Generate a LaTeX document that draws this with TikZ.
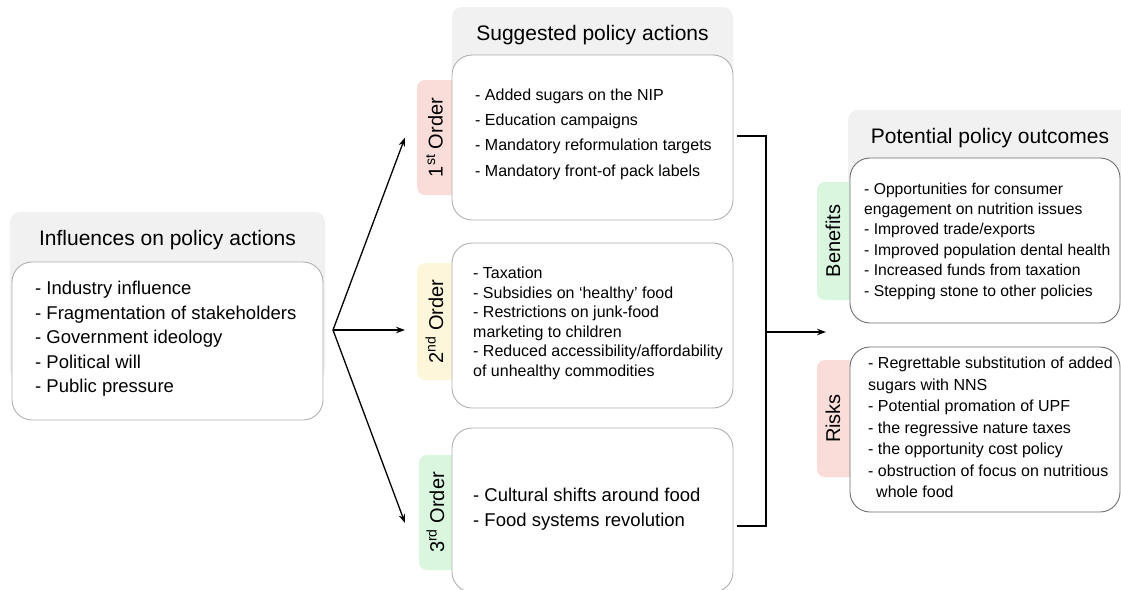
\documentclass[tikz,border=0pt]{standalone}
\usepackage{fontspec}
\setmainfont{Liberation Sans}
\usetikzlibrary{arrows.meta}
\definecolor{panelgray}{RGB}{241,241,241}
\definecolor{tabpink}{RGB}{250,220,217}
\definecolor{tabyellow}{RGB}{254,246,218}
\definecolor{tabgreen}{RGB}{218,246,222}
\definecolor{boxline}{RGB}{175,175,175}
\definecolor{boxlinedark}{RGB}{110,110,110}

\begin{document}
\begin{tikzpicture}[x=1pt,y=-1pt,>={Stealth[length=9pt,width=6.5pt]},
  panel/.style={fill=panelgray, rounded corners=10pt},
  box/.style={draw=boxline, fill=white, rounded corners=20pt, line width=0.9pt, inner sep=0pt},
  tablabel/.style={rotate=90, font=\fontsize{20}{24}\selectfont, inner sep=0pt},
  title/.style={anchor=base, font=\fontsize{21}{25}\selectfont, inner sep=0pt},
  list/.style={anchor=west, align=left, inner sep=0pt},
  link/.style={line width=1.3pt}]
\useasboundingbox (0,0) rectangle (1121,589);
%%%GREY PANELS
\fill[panel] (10,212) rectangle (325,380);
\fill[panel] (452,7) rectangle (733,150);
\fill[panel] (848,110) rectangle (1135,300);
\node[title] (inflTitle) at (167.5,245) {Influences on policy actions};
\node[title] (suggTitle) at (592.5,40) {Suggested policy actions};
\node[title] (outcTitle) at (990,143) {Potential policy outcomes};
%%%TABS
\fill[tabpink, rounded corners=8pt] (417,80) rectangle (462,195);
\fill[tabyellow, rounded corners=8pt] (417,263) rectangle (462,380);
\fill[tabgreen, rounded corners=8pt] (419,455) rectangle (462,570);
\fill[tabgreen, rounded corners=8pt] (817,182) rectangle (860,300);
\fill[tabpink, rounded corners=8pt] (817,360) rectangle (860,477);
\node[tablabel] (ord1) at (434.5,137.5) {1\textsuperscript{st} Order};
\node[tablabel] (ord2) at (434.5,321.5) {2\textsuperscript{nd} Order};
\node[tablabel] (ord3) at (435.5,512.5) {3\textsuperscript{rd} Order};
\node[tablabel] (benef) at (833,241) {Benefits};
\node[tablabel] (risk) at (833,418.5) {Risks};
%%%BOXES
\node[box, minimum width=311pt, minimum height=158pt] (infl) at (167.5,341) {};
\node[box, minimum width=281pt, minimum height=165pt] (sugg1) at (592.5,137.5) {};
\node[box, minimum width=281pt, minimum height=165pt] (sugg2) at (592.5,325.5) {};
\node[box, minimum width=281pt, minimum height=164pt] (sugg3) at (592.5,510) {};
\node[box, draw=boxlinedark, minimum width=270pt, minimum height=165pt] (benefBox) at (985,240.5) {};
\node[box, draw=boxlinedark, minimum width=270pt, minimum height=165pt] (riskBox) at (985,429.5) {};
%%%LISTS
\node[list, font=\fontsize{18.5}{24.5}\selectfont] (inflList) at (35,339) {- Industry influence\\- Fragmentation of stakeholders\\- Government ideology\\- Political will\\- Public pressure};
\node[list, font=\fontsize{16}{25.3}\selectfont] (sugg1List) at (475,134) {- Added sugars on the NIP\\- Education campaigns\\- Mandatory reformulation targets\\- Mandatory front-of pack labels};
\node[list, font=\fontsize{16}{19.5}\selectfont] (sugg2List) at (473,323.5) {- Taxation\\- Subsidies on `healthy' food\\- Restrictions on junk-food\\marketing to children\\- Reduced accessibility/affordability\\of unhealthy commodities};
\node[list, font=\fontsize{18.5}{25}\selectfont] (sugg3List) at (473,509.5) {- Cultural shifts around food\\- Food systems revolution};
\node[list, font=\fontsize{15.7}{20.4}\selectfont] (benefList) at (864,241) {- Opportunities for consumer\\engagement on nutrition issues\\- Improved trade/exports\\- Improved population dental health\\- Increased funds from taxation\\- Stepping stone to other policies};
\node[list, font=\fontsize{16}{21.5}\selectfont] (riskList) at (868,427.5) {- Regrettable substitution of added\\sugars with NNS\\- Potential promation of UPF\\- the regressive nature taxes\\- the opportunity cost policy\\- obstruction of focus on nutritious\\\hspace*{8pt}whole food};
%%%ARROWS
\coordinate (fork) at (333,330);
\draw[->,link] (fork) -- ([xshift=-29.5pt]ord1.center);
\draw[->,link] (fork) -- ([xshift=-29.5pt,yshift=-8.5pt]ord2.center);
\draw[->,link] (fork) -- ([xshift=-30.5pt,yshift=-10.5pt]ord3.center);
\coordinate (join) at (766,332);
\draw[link] ([xshift=4pt,yshift=1.5pt]sugg1.east) -| (join);
\draw[link] ([xshift=4pt,yshift=-16pt]sugg3.east) -| (join);
\draw[->,link] (join) -- (826,332);
\end{tikzpicture}
\end{document}
